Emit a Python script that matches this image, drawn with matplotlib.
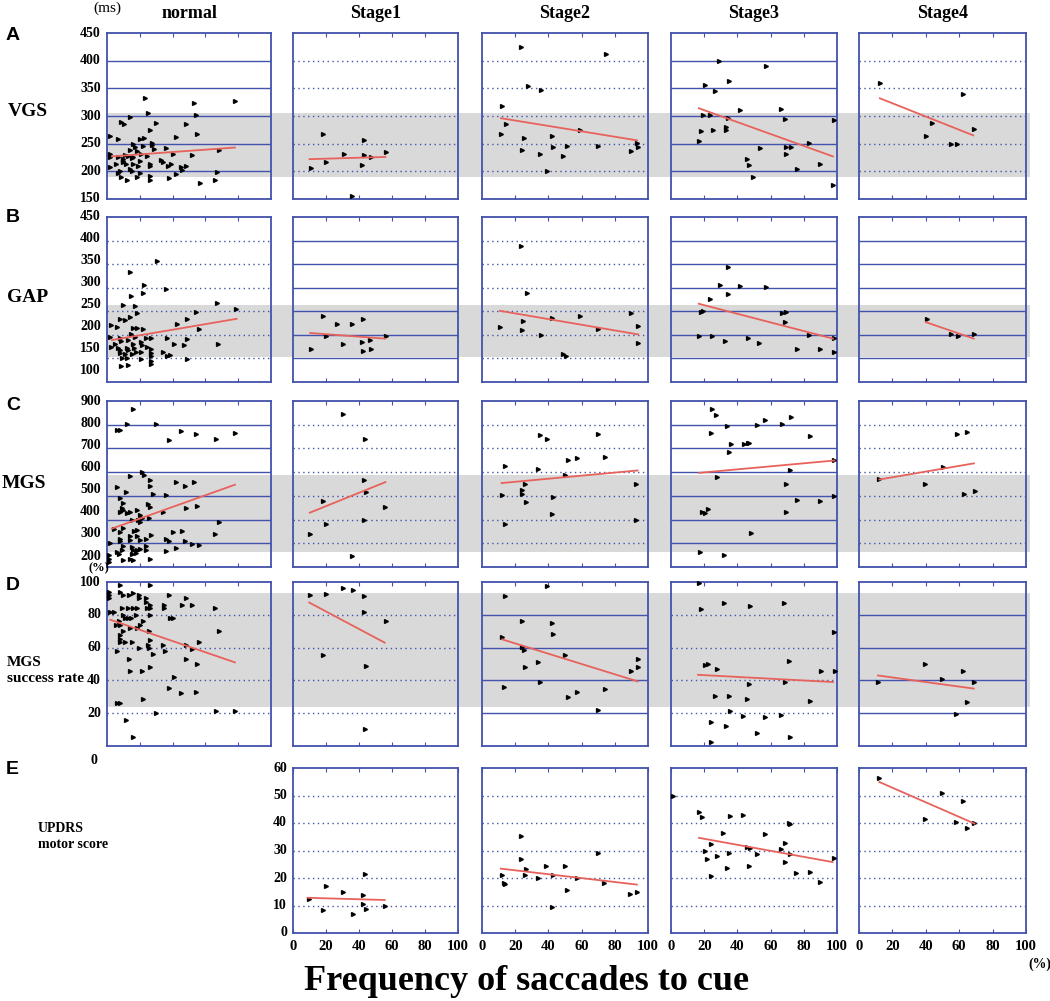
import numpy as np
import matplotlib.pyplot as plt
from matplotlib.transforms import blended_transform_factory, ScaledTranslation

W, H = 1050, 1001

COLUMNS = ['normal', 'Stage1', 'Stage2', 'Stage3', 'Stage4']
LETTERS = ['A', 'B', 'C', 'D', 'E']

# ---- A: VGS latency (ms) ----
VGS_NORMAL = [(22.9, 333), (53, 323), (78, 328), (25, 305), (14, 298), (8.6, 290), (10.6, 286),
              (30, 288), (48, 285), (54, 301), (55, 267), (2, 264), (6.5, 259), (42, 262),
              (26, 274), (20, 258), (22.4, 260), (27.5, 252), (27.6, 247), (16, 249), (17.3, 244),
              (22, 246), (18.4, 237), (28.6, 241), (35.7, 242), (2, 231), (2, 226), (7, 226),
              (10, 222), (9.6, 219), (11, 229), (14.3, 239), (13, 228), (15, 225), (16, 226),
              (21, 232), (24.5, 228), (26.5, 214), (26.5, 210), (20, 219), (10, 216), (11.6, 213),
              (5.7, 214), (2, 208), (16, 214), (19, 210), (14, 205), (15, 201), (8, 200),
              (6.5, 197), (8.6, 190), (12, 184), (18, 190), (20, 197), (26.5, 191), (26.5, 184),
              (34, 217), (37, 210), (39, 213), (40, 232), (33, 220), (38, 188), (42, 195),
              (45, 208), (46, 202), (48, 210), (52, 229), (56.5, 179), (67, 199), (66, 184),
              (68, 239)]
VGS_STAGE1 = [(18.2, 268), (43, 256), (30.9, 232), (43, 229), (47, 226), (56.6, 235), (19.8, 217),
              (41.8, 212), (10.7, 206), (35.8, 155)]
VGS_STAGE2 = [(23.7, 424), (74.7, 412), (27.7, 355), (35.7, 347), (12, 318), (14.5, 286),
              (11.6, 268), (59, 274), (25, 261), (42.4, 263), (24, 239), (42.8, 244), (51, 245),
              (70, 246), (93.4, 251), (94, 244), (90, 236), (35, 232), (49, 227), (39, 200)]
VGS_STAGE3 = [(29, 400), (57.2, 391), (35.1, 364), (20.3, 356), (26.6, 346), (41.8, 311),
              (66.5, 312), (19.3, 302), (23.3, 302), (34.5, 297), (68.5, 294), (98, 292),
              (18.3, 272), (25, 275), (32.9, 280), (32.9, 275), (16.8, 254), (83, 251),
              (53.4, 242), (69, 244), (72, 244), (69, 232), (46, 222), (47, 211), (90, 214),
              (76, 204), (49.3, 189), (97.8, 176)]
VGS_STAGE4 = [(12.7, 359), (62.4, 339), (43.7, 288), (68.8, 277), (40.2, 263), (55.3, 250),
              (58.8, 249)]
VGS_FIT_X = [(3, 78), (10, 56), (11.4, 93.4), (16.8, 97.5), (12.5, 68.4)]
VGS_FIT_Y = [(227, 243), (222, 226), (296, 256), (314, 227), (332, 265)]

# ---- B: GAP latency (ms) ----
GAP_NORMAL = [(30.3, 356), (14.3, 334), (22.7, 305), (22, 289), (36, 297), (14.8, 282), (10, 264),
              (17.2, 262), (18.4, 246), (14, 237), (8, 234), (10.7, 231), (2.3, 221), (6.4, 216),
              (16, 214), (18.4, 214), (22, 212), (14.8, 201), (2, 196), (2.6, 174), (7.8, 194),
              (8.8, 187), (12.7, 189), (17, 196), (20.5, 184), (21.5, 179), (24, 193), (27, 193),
              (24.6, 175), (26.6, 171), (7, 173), (8, 167), (12, 173), (13, 167), (15.6, 180),
              (16.4, 173), (8, 162), (11, 159), (15, 159), (20.9, 148), (27, 162), (27, 155),
              (27, 144), (27, 139), (9, 151), (12, 151), (8.6, 134), (13, 137), (17.6, 164),
              (36.5, 194), (34, 164), (36.5, 156), (38.5, 157), (40.6, 180), (42.6, 223),
              (46.7, 178), (48.5, 234), (49, 192), (49, 148), (54, 249), (56, 212), (67, 267),
              (67.6, 180), (78.9, 254), (20.5, 164), (4.7, 180)]
GAP_STAGE1 = [(18.2, 240), (26.9, 222), (35.5, 224), (42.7, 233), (19.7, 198), (56.4, 198),
              (30.4, 180), (41.8, 185), (46.6, 189), (10.7, 169), (42.7, 165), (47, 169)]
GAP_STAGE2 = [(23.4, 388), (27.3, 288), (24.9, 230), (10.8, 216), (24, 210), (35.4, 199),
              (42.3, 235), (58.9, 241), (70, 213), (90, 246), (94, 219), (94, 182), (48.6, 160),
              (50.8, 155)]
GAP_STAGE3 = [(34.6, 343), (29.3, 305), (41.8, 304), (57, 302), (34.3, 286), (23.6, 276),
              (18.2, 249), (19.4, 251), (66.6, 246), (69, 248), (68.7, 228), (16.7, 198),
              (24.8, 198), (46.3, 194), (32.5, 187), (53, 183), (83, 199), (98, 194), (76, 170),
              (89.9, 169), (98, 164)]
GAP_STAGE4 = [(40.6, 233), (55.2, 202), (59.1, 198), (69, 202)]
GAP_FIT_X = [(3, 79), (10.4, 55.8), (10.8, 94), (16.7, 97.6), (40, 68.7)]
GAP_FIT_Y = [(189, 234), (204, 192), (251, 201), (266, 192), (227, 192)]

# ---- C: MGS latency (ms) ----
MGS_NORMAL = [(16, 867), (6, 779), (8.2, 779), (12.3, 804), (29.7, 801), (45, 773), (38, 737),
              (54, 759), (66.6, 738), (78, 765), (21.5, 601), (22.5, 589), (14, 582), (6, 537),
              (11.7, 516), (26, 565), (26, 540), (42, 558), (47.7, 543), (53, 558), (28, 506),
              (36, 502), (8.2, 492), (9.6, 470), (9.2, 449), (10, 439), (25, 467), (26, 453),
              (48, 450), (55, 457), (8.2, 432), (12.3, 428), (14.3, 432), (18, 439), (34, 432),
              (20, 418), (21.5, 408), (15.4, 397), (19, 400), (20, 390), (25.6, 407), (68, 390),
              (4, 362), (8.2, 348), (9.6, 366), (16.6, 352), (18.4, 355), (8.2, 320), (8.2, 310),
              (14, 329), (14.3, 315), (18.4, 329), (20, 315), (23.6, 320), (26.6, 334), (36, 320),
              (38, 308), (40, 348), (46, 352), (47.7, 310), (66, 341), (52, 299), (56, 294),
              (2, 301), (10, 289), (15.4, 284), (23.6, 287), (24, 270), (20, 277), (15.4, 256),
              (17.4, 259), (6, 263), (7.6, 256), (9, 270), (14, 235), (16, 228), (9.6, 228),
              (1.4, 249), (1.4, 235), (1.4, 221), (26, 235), (36, 268), (42, 282), (15.8, 270),
              (18.4, 270)]
MGS_STAGE1 = [(30.6, 847), (43.5, 741), (42.9, 565), (44.5, 516), (18.4, 478), (56, 453),
              (20, 382), (42.9, 399), (10.2, 340), (36, 247)]
MGS_STAGE2 = [(35.2, 758), (38.9, 741), (70, 762), (74, 664), (51.7, 650), (57, 659), (13.8, 624),
              (33.8, 613), (49.9, 586), (26, 548), (93, 551), (24, 526), (24, 506), (12.2, 502),
              (42.8, 495), (26.3, 474), (13.8, 382), (42, 425), (93, 399)]
MGS_STAGE3 = [(24.5, 867), (26.9, 840), (72, 832), (56.5, 818), (33.7, 793), (52, 799),
              (66.7, 802), (24, 765), (83.7, 751), (36, 718), (43.9, 718), (46.3, 725), (47, 725),
              (34.9, 683), (98.4, 651), (71.8, 609), (28, 580), (69.4, 549), (98.4, 498), (76, 484),
              (90, 478), (18.4, 434), (20.4, 427), (22, 443), (69, 434), (48, 342), (17.3, 264),
              (32.2, 249)]
MGS_STAGE4 = [(58.6, 762), (64.7, 768), (50.4, 620), (12.2, 569), (39.8, 549), (62.6, 509),
              (69.4, 521)]
MGS_FIT_X = [(3, 78), (10.2, 56), (11.8, 93.7), (16.9, 98.4), (12.2, 68.8)]
MGS_FIT_Y = [(362, 547), (429, 558), (554, 607), (597, 649), (569, 637)]

# ---- D: MGS success rate (%) ----
RATE_NORMAL = [(7.7, 98), (26, 98), (1.4, 94), (1.4, 92), (1.4, 90), (7.7, 94), (9.5, 92),
               (13.7, 92), (16, 93.5), (19.6, 92), (19.6, 90), (23.6, 90), (23.6, 88), (26, 86),
               (26, 84), (38, 92), (35, 86), (35, 84), (48, 90), (46, 86), (52, 86), (2, 82),
               (4, 82), (9, 84), (12.7, 84), (16, 84), (18, 84), (24.6, 84), (66, 84), (9.7, 80),
               (17.8, 80), (26, 80), (10.7, 78), (12.7, 78), (14.5, 78), (38.4, 78), (40.4, 78),
               (7.5, 76), (8, 74), (22, 76), (20, 74), (5.7, 74), (14, 72), (18, 72), (10, 70),
               (25.6, 70), (68, 70), (7.7, 67.5), (7.7, 65.5), (7.7, 63.5), (11, 63.5), (15, 63.5),
               (26.5, 64.5), (56, 63.5), (25, 61.5), (25.6, 60), (48.3, 61.5), (34, 61.5),
               (19.6, 59.5), (52, 59), (6, 58), (35.6, 58), (28, 56), (13.7, 53), (48.3, 53),
               (55, 50), (26, 48), (14, 46), (21.6, 46), (41, 42), (37.9, 35.5), (45, 32.5),
               (54, 33), (22, 28.4), (6, 26), (8, 26), (30, 20), (66.7, 21.3), (78, 21.5),
               (11.7, 15.8), (16, 5.7)]
RATE_STAGE1 = [(30.5, 96.6), (36.4, 95.4), (10.4, 91.9), (20.1, 92.5), (42.9, 91.5), (42.9, 81.8),
               (56.2, 76.4), (18, 55.6), (44.4, 48.5), (43.5, 10.5)]
RATE_STAGE2 = [(39, 97.6), (13.7, 91.3), (23.8, 76.4), (42, 75.2), (42.6, 68), (11.9, 66.3),
               (23.8, 60.2), (25.6, 58.6), (50, 55.2), (33.6, 51.1), (26.2, 47.9), (93.8, 53.1),
               (93.8, 48), (90, 45.5), (13.4, 36), (35.1, 39), (73.8, 35), (57.4, 32.7),
               (52, 29.9), (70, 22.2)]
RATE_STAGE3 = [(16.9, 99.6), (17.8, 83.8), (31.8, 87.5), (47.5, 85.5), (68.2, 87.5), (98, 69.7),
               (71.2, 51.9), (20.5, 49.1), (22, 49.9), (27.9, 47.1), (90.4, 45.5), (98.8, 45.5),
               (68.8, 39), (47.2, 38), (26.4, 30.3), (34.7, 30.7), (46, 28.9), (83.7, 27.3),
               (35.6, 21.2), (43.6, 18), (56.4, 17.8), (66.5, 18.6), (23.9, 14.7), (33.2, 12.1),
               (51.6, 7.9), (71.8, 5.7), (24.3, 2.4)]
RATE_STAGE4 = [(39.4, 49.9), (62.1, 45.9), (49.6, 41), (11.3, 38.8), (69, 39), (64.5, 26.7),
               (58.2, 19.6)]
RATE_FIT_X = [(2, 78), (9.8, 55.6), (12.2, 93.8), (16.3, 97.6), (11.3, 68.7)]
RATE_FIT_Y = [(77, 51), (87.5, 63), (65, 39.4), (43.4, 39), (43, 35)]

# ---- E: UPDRS motor score (patients only) ----
UPDRS_STAGE1 = [(9.8, 12.2), (17.9, 8.2), (19.9, 17), (30.5, 14.8), (36.3, 6.8), (42.4, 13.7),
                (43.4, 21.3), (42.4, 10.4), (44, 8.8), (55.6, 9.8)]
UPDRS_STAGE2 = [(12.2, 21.2), (13.2, 18.2), (13.6, 17.7), (23.5, 35.2), (23.5, 26.8), (26.4, 23.2),
                (26, 21.2), (33.5, 20), (38.7, 24.2), (42.8, 21.2), (42.2, 9.5), (49.7, 24.2),
                (51.3, 15.8), (57, 20), (69.6, 29.1), (73.6, 18.2), (89.2, 14.3), (93.5, 14.8)]
UPDRS_STAGE3 = [(16.9, 44), (18.4, 42.2), (35.7, 42.4), (43.5, 42.8), (70.8, 40), (71.4, 39.8),
                (31.6, 36.4), (56.5, 35.9), (23.9, 32.2), (68.6, 32.7), (20.4, 29.8), (45.9, 31.3),
                (47.6, 30.8), (66.3, 30.7), (34.7, 29.2), (21.8, 26.9), (27.6, 27.9), (51.6, 28.8),
                (71.4, 28.6), (98, 27.4), (33.7, 23.6), (46.9, 24.2), (68.8, 25.7), (75.5, 21.8),
                (83.7, 22.2), (24, 20.8), (89.8, 18.4), (1.5, 50)]
UPDRS_STAGE4 = [(12.2, 56.4), (49.8, 50.9), (62, 48), (39.6, 41.5), (58.3, 40.4), (64.4, 38.3),
                (69.1, 40)]
UPDRS_FIT_X = [None, (8.8, 55.6), (11.4, 93.3), (16.9, 97.3), (12.2, 69.1)]
UPDRS_FIT_Y = [None, (12.8, 12), (23.4, 17.6), (34.6, 25.8), (54.9, 39.8)]

# normal-range bands (shaded across each row)
BANDS = [(190, 306), (153, 263), (262, 590), (24, 93), None]

ROW_DATA = [
    [VGS_NORMAL, VGS_STAGE1, VGS_STAGE2, VGS_STAGE3, VGS_STAGE4],
    [GAP_NORMAL, GAP_STAGE1, GAP_STAGE2, GAP_STAGE3, GAP_STAGE4],
    [MGS_NORMAL, MGS_STAGE1, MGS_STAGE2, MGS_STAGE3, MGS_STAGE4],
    [RATE_NORMAL, RATE_STAGE1, RATE_STAGE2, RATE_STAGE3, RATE_STAGE4],
    [None, UPDRS_STAGE1, UPDRS_STAGE2, UPDRS_STAGE3, UPDRS_STAGE4],
]
ROW_FIT_X = [VGS_FIT_X, GAP_FIT_X, MGS_FIT_X, RATE_FIT_X, UPDRS_FIT_X]
ROW_FIT_Y = [VGS_FIT_Y, GAP_FIT_Y, MGS_FIT_Y, RATE_FIT_Y, UPDRS_FIT_Y]

ROW_YLIM = [(150, 450), (100, 450), (200, 900), (0, 100), (0, 60)]
ROW_YTICKS = [np.arange(150, 451, 50), np.arange(100, 451, 50), np.arange(200, 901, 100),
              np.arange(20, 101, 20), np.arange(0, 61, 10)]

# layout in pixels
COL_X = [(107, 271), (293, 458), (482, 648), (671, 837), (859, 1026)]
ROW_Y = [(33, 199), (217, 382), (401, 567), (582, 746), (768, 933)]
GRID_STYLE = [
    ['-', ':', ':', '-', ':'],
    [':', '-', ':', '-', '-'],
    ['-', ':', ':', '-', ':'],
    [':', ':', '-', ':', '-'],
    [None, ':', ':', ':', ':'],
]
# the tick-label column of rows B and C is squeezed upward in the original (pixels at bottom)
LABEL_SQUEEZE = [0, 12, 11, 0, 0]

BLUE = '#4352ad'
SERIF = 'Liberation Serif'


def rect(x0, x1, y0, y1):
    return [x0 / W, 1 - y1 / H, (x1 - x0) / W, (y1 - y0) / H]


fig = plt.figure(figsize=(W / 100, H / 100), dpi=100)

for r in range(5):
    y0, y1 = ROW_Y[r]
    lo_lim, hi_lim = ROW_YLIM[r]

    # grey band behind the whole row
    if BANDS[r] is not None:
        bg = fig.add_axes(rect(0, W, y0, y1), zorder=0)
        bg.set_xlim(0, W)
        bg.set_ylim(lo_lim, hi_lim)
        bg.axhspan(BANDS[r][0], BANDS[r][1], xmin=106 / W, xmax=1030 / W,
                   color='#d9d9d9', lw=0)
        bg.axis('off')

    for c in range(5):
        pts = ROW_DATA[r][c]
        if pts is None:
            continue
        x0, x1 = COL_X[c]
        ax = fig.add_axes(rect(x0, x1, y0, y1), zorder=1)
        ax.set_facecolor('none')
        ax.set_xlim(0, 100)
        ax.set_ylim(lo_lim, hi_lim)

        grid_vals = [v for v in ROW_YTICKS[r] if lo_lim < v < hi_lim]
        if GRID_STYLE[r][c] == '-':
            for v in grid_vals:
                ax.axhline(v, color=BLUE, lw=1.0, zorder=1)
        else:
            for v in grid_vals:
                ax.axhline(v, color=BLUE, lw=1.0, ls=(0, (1, 2.5)), zorder=1)

        for sp in ax.spines.values():
            sp.set_color(BLUE)
            sp.set_linewidth(1.3)

        xy = np.array(pts)
        ax.plot(xy[:, 0], xy[:, 1], ls='none', marker='>', ms=2.8, color='black',
                zorder=3, clip_on=False)
        fx, fy = ROW_FIT_X[r][c], ROW_FIT_Y[r][c]
        ax.plot(fx, fy, color='#e8625c', lw=1.3, zorder=4)

        ax.tick_params(axis='x', which='both', direction='in', length=3, color=BLUE,
                       top=True, bottom=True)
        if r == 4:
            ax.set_xticks(np.arange(0, 101, 20))
            ax.set_xticklabels([str(v) for v in range(0, 101, 20)],
                               fontfamily=SERIF, fontweight='bold', fontsize=10.5)
            ax.tick_params(axis='x', pad=5)
        else:
            ax.set_xticks([20, 40, 60, 80])
            ax.set_xticklabels([])

        ax.set_yticks([])
        ax.tick_params(axis='y', length=0)
        show_y = (c == 0) or (r == 4 and c == 1)
        if show_y:
            base = blended_transform_factory(ax.transAxes, ax.transData)
            for v in ROW_YTICKS[r]:
                frac = (hi_lim - v) / (hi_lim - lo_lim)
                shift = ScaledTranslation(-6 / 100, frac * LABEL_SQUEEZE[r] / 100,
                                          fig.dpi_scale_trans)
                ax.text(0, v, str(v), transform=base + shift, ha='right', va='center',
                        fontfamily=SERIF, fontweight='bold', fontsize=10)

# column titles
for c, name in enumerate(COLUMNS):
    xm = (COL_X[c][0] + COL_X[c][1]) / 2
    fig.text(xm / W, 1 - 13 / H, name, ha='center', va='center', fontfamily=SERIF,
             fontweight='bold', fontsize=13)

# panel letters
for letter, yy in zip(LETTERS, [36, 217, 405, 586, 769]):
    fig.text(6 / W, 1 - yy / H, letter, ha='left', va='center', fontfamily='Liberation Sans',
             fontweight='bold', fontsize=14)

# row labels
fig.text(8 / W, 1 - 112 / H, 'VGS', ha='left', va='center', fontfamily=SERIF,
         fontweight='bold', fontsize=14)
fig.text(7 / W, 1 - 298 / H, 'GAP', ha='left', va='center', fontfamily=SERIF,
         fontweight='bold', fontsize=14)
fig.text(2 / W, 1 - 483 / H, 'MGS', ha='left', va='center', fontfamily=SERIF,
         fontweight='bold', fontsize=14)
fig.text(7 / W, 1 - 662 / H, 'MGS', ha='left', va='center', fontfamily=SERIF,
         fontweight='bold', fontsize=11)
fig.text(7 / W, 1 - 678 / H, 'success rate', ha='left', va='center', fontfamily=SERIF,
         fontweight='bold', fontsize=11)
fig.text(38 / W, 1 - 829 / H, 'UPDRS', ha='left', va='center', fontfamily=SERIF,
         fontweight='bold', fontsize=10)
fig.text(38 / W, 1 - 845 / H, 'motor score', ha='left', va='center', fontfamily=SERIF,
         fontweight='bold', fontsize=10)

# units
fig.text(107 / W, 1 - 8 / H, '(ms)', ha='center', va='center', fontfamily=SERIF, fontsize=11)
fig.text(99 / W, 1 - 568 / H, '(%)', ha='center', va='center', fontfamily=SERIF,
         fontweight='bold', fontsize=9)
fig.text(94 / W, 1 - 760 / H, '0', ha='center', va='center', fontfamily=SERIF,
         fontweight='bold', fontsize=10)
fig.text(1040 / W, 1 - 964 / H, '(%)', ha='center', va='center', fontfamily=SERIF,
         fontweight='bold', fontsize=10)

fig.text(527 / W, 1 - 982 / H, 'Frequency of saccades to cue', ha='center', va='center',
         fontfamily=SERIF, fontweight='bold', fontsize=26)

fig.savefig('out.png', dpi=100)
